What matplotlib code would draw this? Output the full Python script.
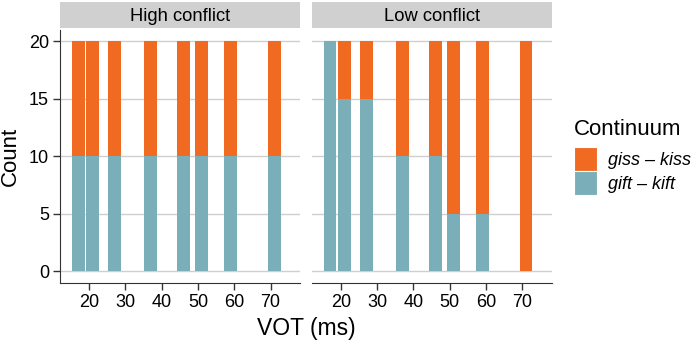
import matplotlib

matplotlib.use("Agg")
import matplotlib.pyplot as plt
from matplotlib.patches import Patch

plt.rcParams["font.family"] = ["Liberation Sans", "DejaVu Sans"]

# data
vot = [17, 21, 27, 37, 46, 51, 59, 71]
panels = ["High conflict", "Low conflict"]
gift_kift = {
    "High conflict": [10, 10, 10, 10, 10, 10, 10, 10],
    "Low conflict": [20, 15, 15, 10, 10, 5, 5, 0],
}
giss_kiss = {
    "High conflict": [10, 10, 10, 10, 10, 10, 10, 10],
    "Low conflict": [0, 5, 5, 10, 10, 15, 15, 20],
}
xticks = [20, 30, 40, 50, 60, 70]
yticks = [0, 5, 10, 15, 20]

ORANGE = "#F06A22"
TEAL = "#7AAFBA"
STRIP = "#D0D0D0"
GRID = "#CFCFCF"
AXIS = "#333333"

W, H = 699, 340
fig = plt.figure(figsize=(W / 100, H / 100), dpi=100)

lefts = [60, 311.7]
pw = 240
top_px, bot_px = 30, 282.7

for i, name in enumerate(panels):
    ax = fig.add_axes([lefts[i] / W, 1 - bot_px / H, pw / W, (bot_px - top_px) / H])
    ax.bar(vot, gift_kift[name], width=3.5, color=TEAL, zorder=2)
    ax.bar(vot, giss_kiss[name], width=3.5, bottom=gift_kift[name], color=ORANGE, zorder=2)
    ax.set_xlim(12, 78.1)
    ax.set_ylim(-1, 21)
    ax.set_xticks(xticks)
    ax.set_yticks(yticks)
    for y in yticks:
        ax.axhline(y, color=GRID, lw=1, zorder=1)
    for s in ["top", "right"]:
        ax.spines[s].set_visible(False)
    ax.spines["bottom"].set_color(AXIS)
    ax.spines["left"].set_color(AXIS)
    ax.tick_params(axis="both", labelsize=13, length=5, width=1, color=AXIS, pad=3,
                   labelcolor="black")
    if i == 0:
        ax.set_ylabel("Count", fontsize=16, labelpad=6)
    else:
        ax.spines["left"].set_visible(False)
        ax.tick_params(axis="y", left=False, labelleft=False)

    # facet strip
    sax = fig.add_axes([lefts[i] / W, 1 - 28.3 / H, pw / W, 26.3 / H])
    sax.set_facecolor(STRIP)
    sax.set_xticks([])
    sax.set_yticks([])
    for s in sax.spines.values():
        s.set_visible(False)
    sax.text(0.5, 0.45, name, ha="center", va="center", fontsize=13.2, transform=sax.transAxes)

fig.text((60 + 551.7) / 2 / W, 1 - 335 / H, "VOT (ms)", ha="center", va="baseline", fontsize=16.5)

# legend (title placed separately to control spacing)
fig.text(574 / W, 1 - 135 / H, "Continuum", ha="left", va="baseline", fontsize=16)
handles = [Patch(facecolor=ORANGE, edgecolor="white", lw=0.8, label="giss – kiss"),
           Patch(facecolor=TEAL, edgecolor="white", lw=0.8, label="gift – kift")]
fig.legend(handles=handles, loc="upper left", bbox_to_anchor=(574 / W, 1 - 147 / H),
           frameon=False, prop={"size": 13, "style": "italic"},
           handlelength=1.3, handleheight=1.67, handletextpad=0.6,
           labelspacing=0.0, borderpad=0, borderaxespad=0)

fig.savefig("out.png", dpi=100)
